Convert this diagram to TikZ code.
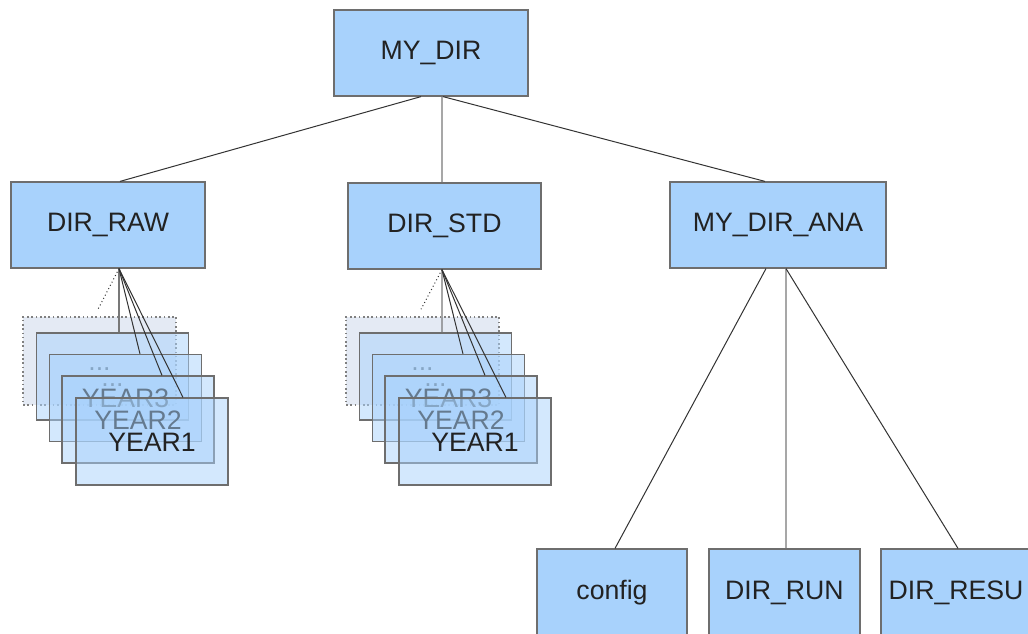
\documentclass[tikz,border=0pt]{standalone}
\usepackage{fontspec}
\setmainfont{Liberation Sans}
\definecolor{boxblue}{RGB}{168,210,252}
\definecolor{boxline}{RGB}{110,110,110}
\definecolor{txt}{RGB}{34,34,34}
\definecolor{ghostfill}{RGB}{228,234,244}
\definecolor{connc}{RGB}{51,51,51}
\tikzset{
  dirbox/.style={draw=boxline, line width=0.9pt, fill=boxblue, text=txt,
    font=\fontsize{20}{24}\selectfont, inner sep=0pt, minimum height=64.5pt},
  yearbox/.style={draw=boxline, line width=0.9pt, fill=boxblue, fill opacity=0.5,
    text opacity=1, text=txt, font=\fontsize{20}{24}\selectfont, inner sep=0pt,
    text height=14.4pt, text depth=0pt,
    minimum width=114pt, minimum height=65.25pt},
  ghostbox/.style={draw=gray, dotted, line width=1.2pt, fill=ghostfill, text=txt,
    font=\fontsize{20}{24}\selectfont, inner sep=0pt,
    text height=14.4pt, text depth=0pt,
    minimum width=114.75pt, minimum height=66pt},
  conn/.style={draw=connc, line width=0.75pt},
  vconn/.style={draw={rgb,255:red,120;green,120;blue,120}, line width=0.9pt},
}
\newcommand\yearstack[4]{%
  \node[ghostbox] (#1g) at ({#4-19.5},361) {...};
  \node[yearbox] (#1a) at ({#4-6.5},376.5) {...};
  \node[yearbox] (#1b) at ({#4+6.5},398) {YEAR3};
  \node[yearbox] (#1c) at ({#4+19},419.5) {YEAR2};
  \node[yearbox] (#1d) at ({#4+33},441.5) {YEAR1};
  \draw[conn, dotted] ([xshift=#3]#2.south) -- ([xshift=-1.1pt,yshift=5.25pt]#1g.north);
  \draw[vconn] ([xshift=#3]#2.south) -- ([xshift=4.875pt]#1a.north);
  \draw[conn] ([xshift=#3]#2.south) -- ([xshift=10.875pt]#1b.north);
  \draw[conn] ([xshift=#3]#2.south) -- ([xshift=18pt]#1c.north);
  \draw[conn] ([xshift=#3]#2.south) -- ([xshift=23.25pt]#1d.north);
}
\begin{document}
\begin{tikzpicture}[x=0.75pt, y=-0.75pt]
  \useasboundingbox (0,0) rectangle (1028,633);
  \clip (0,0) rectangle (1028,633);
  \fill[white] (0,0) rectangle (1028,633);

  \node[dirbox, minimum width=145.5pt] (mydir) at (431,53) {MY\_DIR};
  \node[dirbox, minimum width=145.5pt] (raw) at (108,225) {DIR\_RAW};
  \node[dirbox, minimum width=144.75pt] (std) at (444.5,226) {DIR\_STD};
  \node[dirbox, minimum width=162pt] (ana) at (778,225) {MY\_DIR\_ANA};
  \node[dirbox, minimum width=112.5pt, minimum height=65.25pt] (config) at (612,592.5) {config};
  \node[dirbox, minimum width=113.25pt, minimum height=65.25pt] (run) at (784.5,592.5) {DIR\_RUN};
  \node[dirbox, minimum width=112.5pt, minimum height=65.25pt] (resu) at (956,592.5) {DIR\_RESU};

  \draw[conn] ([xshift=-7.5pt]mydir.south) -- ([xshift=9pt]raw.north);
  \draw[vconn] ([xshift=8.25pt]mydir.south) -- ([xshift=-1.9pt]std.north);
  \draw[conn] ([xshift=9pt]mydir.south) -- ([xshift=-9.75pt]ana.north);

  \draw[conn] ([xshift=-9pt]ana.south) -- ([xshift=2.25pt]config.north);
  \draw[vconn] ([xshift=6pt]ana.south) -- ([xshift=1.1pt]run.north);
  \draw[conn] ([xshift=6pt]ana.south) -- ([xshift=1.5pt]resu.north);

  \yearstack{r}{raw}{8.25pt}{119}
  \yearstack{s}{std}{-1.9pt}{442}
\end{tikzpicture}
\end{document}
